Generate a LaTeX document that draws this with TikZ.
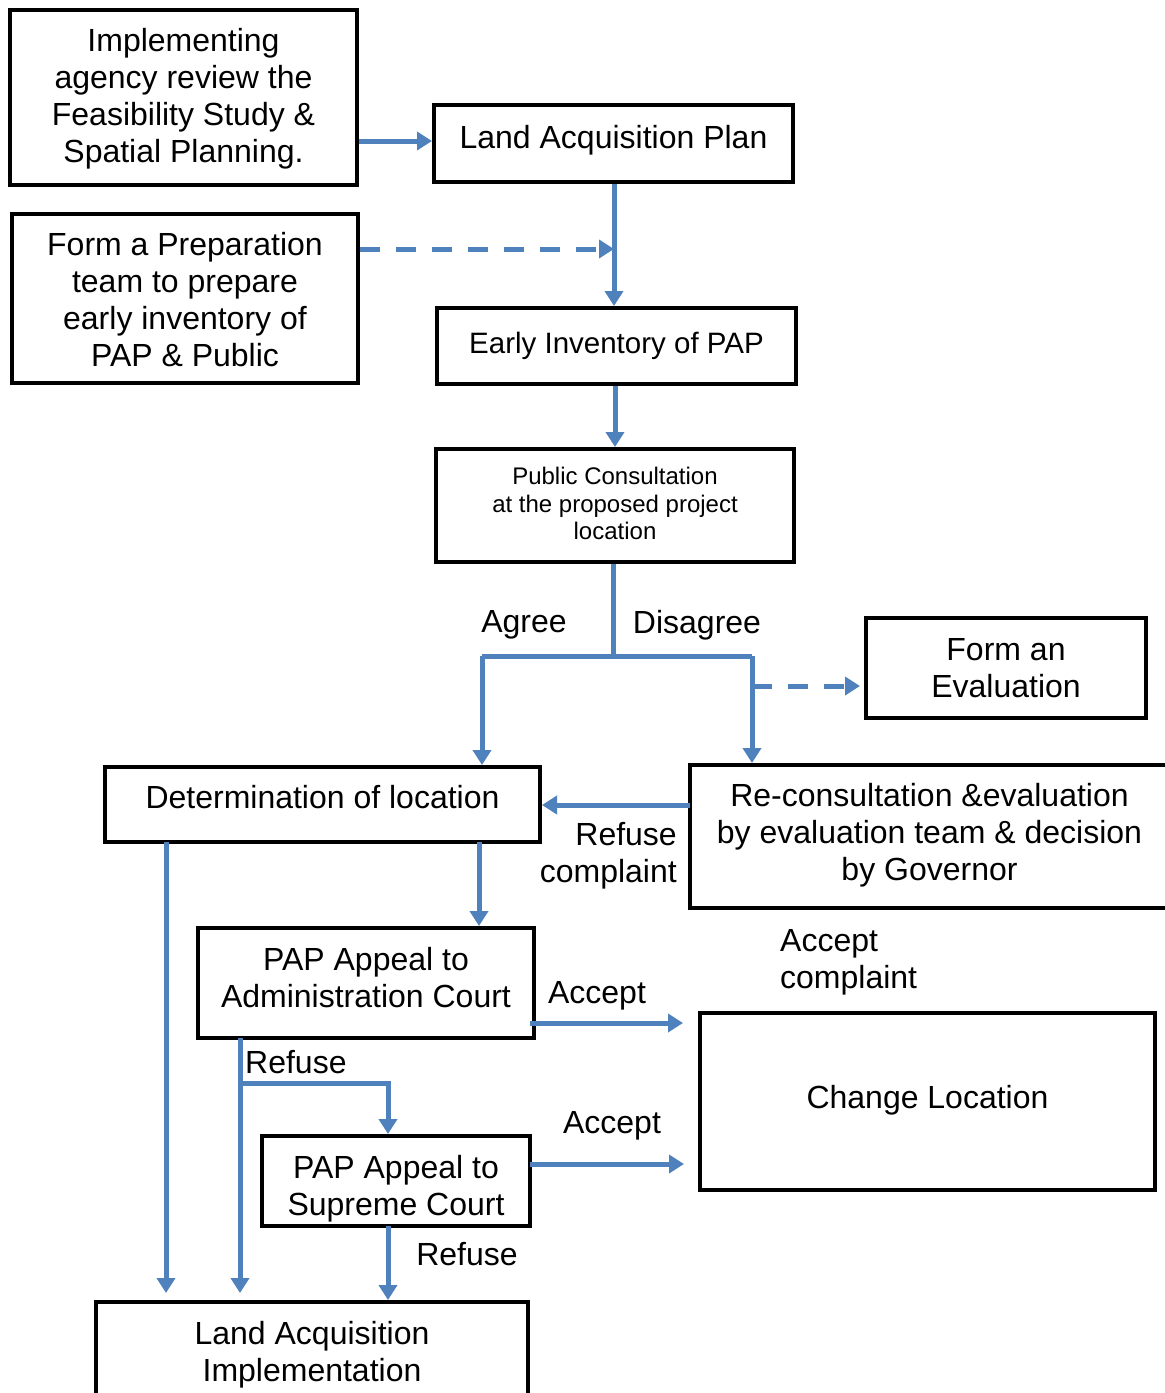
\documentclass[tikz,border=0pt]{standalone}
\usepackage{fontspec}
\setmainfont{Liberation Sans}
\usetikzlibrary{arrows.meta}
\definecolor{lineblue}{RGB}{79,129,189}
\tikzset{
 box/.style={draw=black, line width=4pt, inner sep=0pt},
 txt/.style={inner sep=0pt, align=center, font=\fontsize{32}{37}\selectfont},
 lbl/.style={inner sep=0pt, font=\fontsize{32}{37}\selectfont},
 conn/.style={draw=lineblue, line width=5pt},
 arr/.style={conn, -{Triangle[width=18pt,length=15pt]}},
 darr/.style={arr, dash pattern=on 20pt off 16pt},
}
\begin{document}
\begin{tikzpicture}[x=1pt,y=-1pt]
\clip (0,0) rectangle (1165,1393);
\fill[white] (0,0) rectangle (1165,1393);
% boxes
\node[box, minimum width=347pt, minimum height=175pt] (imp) at (183.5,97.5) {};
\node[txt] (impT) at ([yshift=-1pt]imp.center) {Implementing\\agency review the\\Feasibility Study \&\\Spatial Planning.};
\node[box, minimum width=359pt, minimum height=77pt] (lap) at (613.5,143.5) {};
\node[txt] (lapT) at ([yshift=3pt]lap.center) {Land Acquisition Plan};
\node[box, minimum width=346pt, minimum height=169pt] (prep) at (185,298.5) {};
\node[txt] (prepT) at ([yshift=-1.5pt]prep.center) {Form a Preparation\\team to prepare\\early inventory of\\PAP \& Public};
\node[box, minimum width=359pt, minimum height=76pt] (ei) at (616.5,346) {};
\node[txt, font=\fontsize{29.5}{34}\selectfont] (eiT) at ([yshift=0pt]ei.center) {Early Inventory of PAP};
\node[box, minimum width=358pt, minimum height=113pt] (pc) at (615,505.5) {};
\node[txt, font=\fontsize{24}{27.5}\selectfont] (pcT) at ([yshift=2pt]pc.center) {Public Consultation\\at the proposed project\\location};
\node[box, minimum width=280pt, minimum height=100pt] (eval) at (1006,668) {};
\node[txt] (evalT) at (eval.center) {Form an\\Evaluation};
\node[box, minimum width=435pt, minimum height=75pt] (det) at (322.5,804.5) {};
\node[txt] (detT) at ([yshift=7pt]det.center) {Determination of location};
\node[box, minimum width=479pt, minimum height=143pt] (rec) at (929.5,836.5) {};
\node[txt] (recT) at ([yshift=1pt]rec.center) {Re-consultation \&evaluation\\by evaluation team \& decision\\by Governor};
\node[box, minimum width=336pt, minimum height=110pt] (adm) at (366,983) {};
\node[txt] (admT) at ([yshift=5pt]adm.center) {PAP Appeal to\\Administration Court};
\node[box, minimum width=455pt, minimum height=177pt] (cl) at (927.5,1101.5) {};
\node[txt] (clT) at ([yshift=1pt]cl.center) {Change Location};
\node[box, minimum width=268pt, minimum height=90pt] (sup) at (396,1181) {};
\node[txt] (supT) at ([yshift=-8pt]sup.center) {PAP Appeal to\\Supreme Court};
\node[box, minimum width=432pt, minimum height=98pt] (lai) at (312,1351) {};
\node[txt] (laiT) at ([yshift=-4pt]lai.center) {Land Acquisition\\Implementation};
% labels
\node[lbl] (agree) at (524,625) {Agree};
\node[lbl] (disagree) at (697,625) {Disagree};
\node[lbl, align=right, anchor=east] (refc) at (677,855.5) {Refuse\\complaint};
\node[lbl, align=left, anchor=west] (accc) at (780,962) {Accept\\complaint};
\node[lbl] (acc1) at (597,996) {Accept};
\node[lbl, anchor=west] (ref1) at (245,1062) {Refuse};
\node[lbl] (acc2) at (612,1126) {Accept};
\node[lbl] (ref2) at (467,1254) {Refuse};
% helper coordinates
\coordinate (dj) at (614,249);
\coordinate (j) at (613,656);
\coordinate (jl) at (482,656);
\coordinate (jr) at (752,656);
\coordinate (je) at (752,686);
\coordinate (rd) at (690,805);
\coordinate (da) at (479,842);
\coordinate (dl) at (166,842);
\coordinate (al) at (240,1038);
\coordinate (ab) at (240,1083);
\coordinate (sb) at (388,1083);
\coordinate (ar) at (530,1023);
\coordinate (sr) at (530,1164);
\coordinate (sd) at (388,1226);
% connectors
\draw[arr] (imp.east |- 0,141) -- (lap.west |- 0,141);
\draw[arr] (lap.south -| dj) -- (ei.north -| dj);
\draw[darr] (prep.east |- dj) -- (dj);
\draw[arr] (ei.south -| 615,0) -- (pc.north -| 615,0);
\draw[conn] (pc.south -| j) -- (j);
\draw[conn] (jl) -- (jr);
\draw[arr] (jl) -- (det.north -| jl);
\draw[arr] (jr) -- (rec.north -| jr);
\draw[darr] (je) -- ([xshift=-4pt]eval.west |- je);
\draw[arr] (rd) -- (det.east |- rd);
\draw[arr] (da) -- (adm.north -| da);
\draw[arr, shorten >=7pt] (dl) -- (lai.north -| dl);
\draw[arr, shorten >=7pt] (al) -- (lai.north -| al);
\draw[arr] (ab) -- (sb) -- (sup.north -| sb);
\draw[arr, shorten >=15pt] (ar) -- (cl.west |- ar);
\draw[arr, shorten >=14pt] (sr) -- (cl.west |- sr);
\draw[arr] (sd) -- (lai.north -| sd);
\end{tikzpicture}
\end{document}
